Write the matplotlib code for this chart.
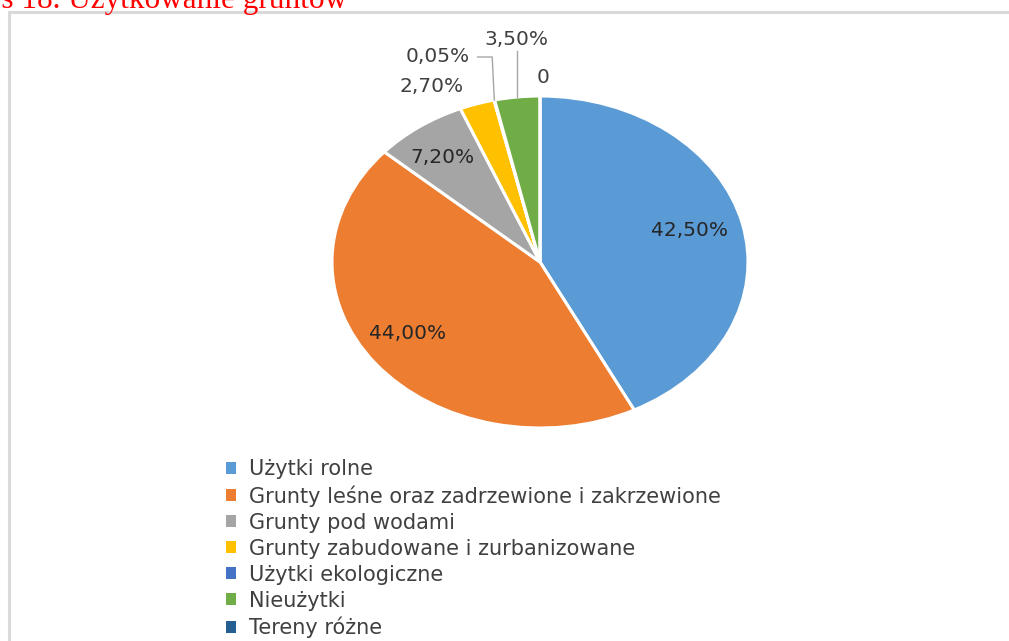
import numpy as np
import matplotlib
matplotlib.use("Agg")
import matplotlib.pyplot as plt
from matplotlib.patches import Patch, Rectangle

categories = [
    "Użytki rolne",
    "Grunty leśne oraz zadrzewione i zakrzewione",
    "Grunty pod wodami",
    "Grunty zabudowane i zurbanizowane",
    "Użytki ekologiczne",
    "Nieużytki",
    "Tereny różne",
]
shares = [42.50, 44.00, 7.20, 2.70, 0.05, 3.50, 0.0]
colors = ["#5B9BD5", "#ED7D31", "#A5A5A5", "#FFC000", "#4472C4", "#70AD47", "#255E91"]

# label anchor points (data units of the pie axes)
label_pos = [(0.72, 0.19), (-0.635, -0.43), (-0.47, 0.63), (-0.52, 1.06),
             (-0.49, 1.24), (-0.115, 1.34), (0.015, 1.11)]

W, H = 1009, 641
fig = plt.figure(figsize=(W / 100, H / 100), dpi=100)
plt.rcParams["font.family"] = ["DejaVu Sans"]

# chart frame (runs off the right and bottom edges)
fig.patches.append(Rectangle((9 / W, -0.1), 1.2, (H - 12) / H + 0.1, transform=fig.transFigure,
                             fill=False, edgecolor="#D9D9D9", linewidth=2.2))

fig.text(347 / W, 1 - 8 / H, "Wykres 18. Użytkowanie gruntów", ha="right", va="baseline",
         color="#FF0000", fontsize=22.5, family=["Liberation Serif"])

# pie stretched wider than tall
rx, ry = 208, 166
cx, cy = 540, 262
ax = fig.add_axes([(cx - 1.25 * rx) / W, (H - cy - 1.25 * ry) / H, 2.5 * rx / W, 2.5 * ry / H])
wedges, _ = ax.pie(shares, colors=colors, startangle=90, counterclock=False,
                   wedgeprops=dict(edgecolor="white", linewidth=2.2))
ax.set_aspect("auto")
ax.set_xlim(-1.25, 1.25)
ax.set_ylim(-1.25, 1.25)
ax.axis("off")

for i, (w, v) in enumerate(zip(wedges, shares)):
    txt = "0" if v == 0 else f"{v:.2f}%".replace(".", ",")
    x, y = label_pos[i]
    inside = i < 3
    ax.text(x, y, txt, ha="center", va="center", fontsize=14.5,
            color="#262626" if inside else "#404040", clip_on=False)
    mid = np.deg2rad((w.theta1 + w.theta2) / 2)
    rim = (np.cos(mid), np.sin(mid))
    if categories[i] == "Użytki ekologiczne":
        ax.plot([x + 0.19, rim[0] - 0.01, rim[0]], [y - 0.005, y - 0.005, rim[1]],
                color="#A6A6A6", lw=1.0, clip_on=False)
    elif categories[i] == "Nieużytki":
        ax.plot([rim[0], rim[0]], [y - 0.07, rim[1]], color="#A6A6A6", lw=1.0, clip_on=False)

handles = [Patch(facecolor=c, edgecolor="none") for c in colors]
fig.legend(handles, categories, loc="upper left", bbox_to_anchor=(226 / W, 1 - 459 / H),
           frameon=False, fontsize=15, handlelength=0.5, handleheight=0.5,
           handletextpad=0.6, labelspacing=0.29, borderpad=0, borderaxespad=0,
           labelcolor="#404040")

fig.savefig("out.png", dpi=100)
